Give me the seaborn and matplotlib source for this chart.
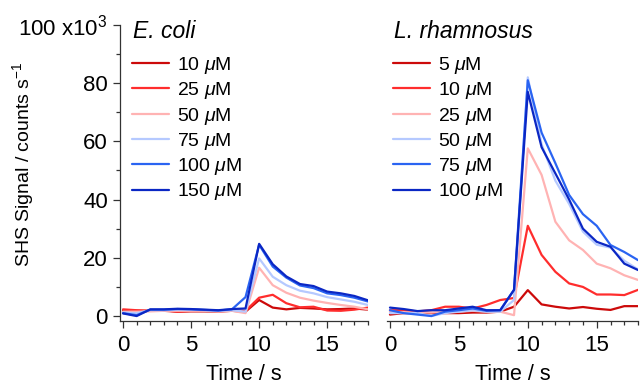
import numpy as np
import pandas as pd
import matplotlib
matplotlib.use('Agg')
import matplotlib.pyplot as plt
from matplotlib.ticker import MultipleLocator, FixedLocator, FixedFormatter
import seaborn as sns

# time axis (s)
time = list(range(19))

# E. coli, SHS signal in 10^3 counts/s
ec_labels = ['10 $\\mathit{\\mu}$M', '25 $\\mathit{\\mu}$M', '50 $\\mathit{\\mu}$M',
             '75 $\\mathit{\\mu}$M', '100 $\\mathit{\\mu}$M', '150 $\\mathit{\\mu}$M']
ec_10 = [2.0, 1.8, 1.8, 1.8, 1.5, 1.6, 1.6, 1.5, 1.8, 1.5, 5.5, 2.9, 2.3, 2.8, 2.6, 2.3, 2.4, 2.6, 2.2]
ec_25 = [2.3, 2.0, 1.8, 2.0, 1.5, 1.8, 2.0, 1.6, 2.0, 1.8, 6.3, 7.3, 4.4, 3.0, 3.2, 1.9, 1.8, 2.2, 2.9]
ec_50 = [1.5, 1.5, 1.6, 1.8, 1.8, 1.8, 1.8, 1.5, 1.8, 1.0, 16.6, 10.6, 8.0, 6.3, 5.3, 4.5, 3.8, 3.2, 2.3]
ec_75 = [1.2, 1.0, 2.0, 2.0, 2.2, 2.2, 2.0, 1.8, 2.0, 1.5, 19.8, 13.5, 10.6, 8.7, 7.8, 6.5, 5.7, 4.9, 3.8]
ec_100 = [1.0, 0.3, 2.2, 2.2, 2.4, 2.3, 2.1, 1.9, 2.3, 6.5, 24.5, 17.0, 13.2, 10.5, 9.6, 7.8, 7.2, 6.3, 5.0]
ec_150 = [0.9, 0.0, 2.3, 2.3, 2.5, 2.4, 2.2, 2.0, 2.4, 2.6, 24.8, 17.8, 13.6, 11.0, 10.3, 8.4, 7.8, 6.9, 5.4]

# L. rhamnosus
lr_labels = ['5 $\\mathit{\\mu}$M', '10 $\\mathit{\\mu}$M', '25 $\\mathit{\\mu}$M',
             '50 $\\mathit{\\mu}$M', '75 $\\mathit{\\mu}$M', '100 $\\mathit{\\mu}$M']
lr_5 = [0.5, 1.0, 1.0, 1.0, 1.0, 1.0, 1.2, 1.2, 1.5, 3.2, 8.9, 4.0, 3.2, 2.6, 3.1, 2.5, 2.1, 3.4, 3.4]
lr_10 = [2.0, 2.0, 1.6, 2.0, 3.2, 3.2, 2.6, 3.8, 5.5, 6.2, 31.0, 21.0, 15.2, 11.2, 10.0, 7.4, 7.4, 7.2, 9.0]
lr_25 = [1.5, 1.2, 1.2, 1.2, 1.5, 1.5, 1.8, 1.5, 1.5, 0.3, 57.6, 48.5, 32.4, 26.0, 22.7, 18.0, 16.4, 14.0, 12.4]
lr_50 = [1.0, 1.0, 1.0, 0.0, 1.0, 1.5, 2.0, 1.5, 1.5, 5.5, 82.0, 59.0, 46.5, 38.5, 29.0, 24.5, 23.5, 19.0, 16.0]
lr_75 = [2.0, 1.0, 0.5, 0.0, 1.5, 2.0, 2.6, 1.8, 2.0, 9.0, 81.0, 63.0, 52.5, 41.6, 35.0, 31.0, 24.4, 22.0, 19.2]
lr_100 = [2.9, 2.4, 1.7, 2.0, 2.0, 2.6, 3.2, 2.0, 2.0, 9.0, 77.0, 58.0, 49.0, 40.0, 30.0, 25.5, 23.8, 18.0, 15.8]

colors = ['#cc0a0a', '#ff2d2d', '#ffb3b3', '#b5c9ff', '#2a64f2', '#0b27c4']

yticks = [0, 20, 40, 60, 80, 100]
yticklabels = ['0', '20', '40', '60', '80', '100 x10$^{3}$']
xticks = [0, 5, 10, 15]


def long_df(labels, series):
    rows = []
    for lab, vals in zip(labels, series):
        for t, v in zip(time, vals):
            rows.append((lab, t, v))
    return pd.DataFrame(rows, columns=['conc', 'time', 'signal'])


sns.set_style('ticks')
plt.rcParams['font.family'] = ['Liberation Sans', 'DejaVu Sans']
plt.rcParams['mathtext.fontset'] = 'custom'
plt.rcParams['mathtext.rm'] = 'Liberation Sans'
plt.rcParams['mathtext.it'] = 'Liberation Sans:italic'
plt.rcParams['mathtext.default'] = 'regular'
for key in ['text.color', 'axes.labelcolor', 'xtick.color', 'ytick.color']:
    plt.rcParams[key] = 'black'

fig = plt.figure(figsize=(6.4, 3.88), dpi=100)
ax1 = fig.add_axes([0.188, 0.1727, 0.387, 0.763])
ax2 = fig.add_axes([0.605, 0.1727, 0.392, 0.763])

panels = [
    (ax1, 'E. coli', ec_labels, [ec_10, ec_25, ec_50, ec_75, ec_100, ec_150], 133),
    (ax2, 'L. rhamnosus', lr_labels, [lr_5, lr_10, lr_25, lr_50, lr_75, lr_100], 394),
]

for ax, title, labels, series, xt in panels:
    df = long_df(labels, series)
    sns.lineplot(data=df, x='time', y='signal', hue='conc', hue_order=labels,
                 palette=dict(zip(labels, colors)), linewidth=1.6, ax=ax,
                 legend=False)
    ax.set_xlim(-0.2, 18)
    ax.set_ylim(-1.7, 100)
    ax.set_xlabel('Time / s', fontsize=15.5, labelpad=6)
    ax.set_ylabel('')
    ax.xaxis.set_major_locator(FixedLocator(xticks))
    ax.xaxis.set_minor_locator(MultipleLocator(1))
    ax.tick_params(axis='x', which='major', length=5, width=0.9, labelsize=16, pad=5, color='#333333')
    ax.tick_params(axis='x', which='minor', length=3, width=0.9, color='#333333')
    for s in ['top', 'right']:
        ax.spines[s].set_visible(False)
    ax.spines['bottom'].set_linewidth(0.9)
    ax.spines['bottom'].set_color('#333333')

    handles = [plt.Line2D([], [], color=c, lw=1.6) for c in colors]
    ax.legend(handles, labels, loc='upper left', bbox_to_anchor=(xt / 640 - 0.002, 1 - 55 / 388),
              bbox_transform=fig.transFigure, frameon=False, fontsize=14,
              handlelength=1.9, handletextpad=0.45, labelspacing=0.22, borderpad=0,
              borderaxespad=0)
    fig.text(xt / 640, 1 - 31 / 388, title, fontsize=16.5, style='italic',
             ha='left', va='center')

ax1.yaxis.set_major_locator(FixedLocator(yticks))
ax1.yaxis.set_major_formatter(FixedFormatter(yticklabels))
ax1.yaxis.set_minor_locator(MultipleLocator(10))
ax1.tick_params(axis='y', which='major', length=5, width=0.9, labelsize=16, pad=4, color='#333333')
ax1.tick_params(axis='y', which='minor', length=3, width=0.9, color='#333333')
ax1.spines['left'].set_bounds(-1.7, 100)
ax1.spines['left'].set_linewidth(0.9)
ax1.spines['left'].set_color('#333333')

ax2.spines['left'].set_visible(False)
ax2.set_yticks([])
ax2.tick_params(axis='y', which='both', left=False, labelleft=False)

fig.text(23 / 640, 1 - 164 / 388, 'SHS Signal / counts s$^{-1}$', fontsize=14,
         rotation=90, ha='center', va='center')

fig.savefig('out.png', dpi=100)
